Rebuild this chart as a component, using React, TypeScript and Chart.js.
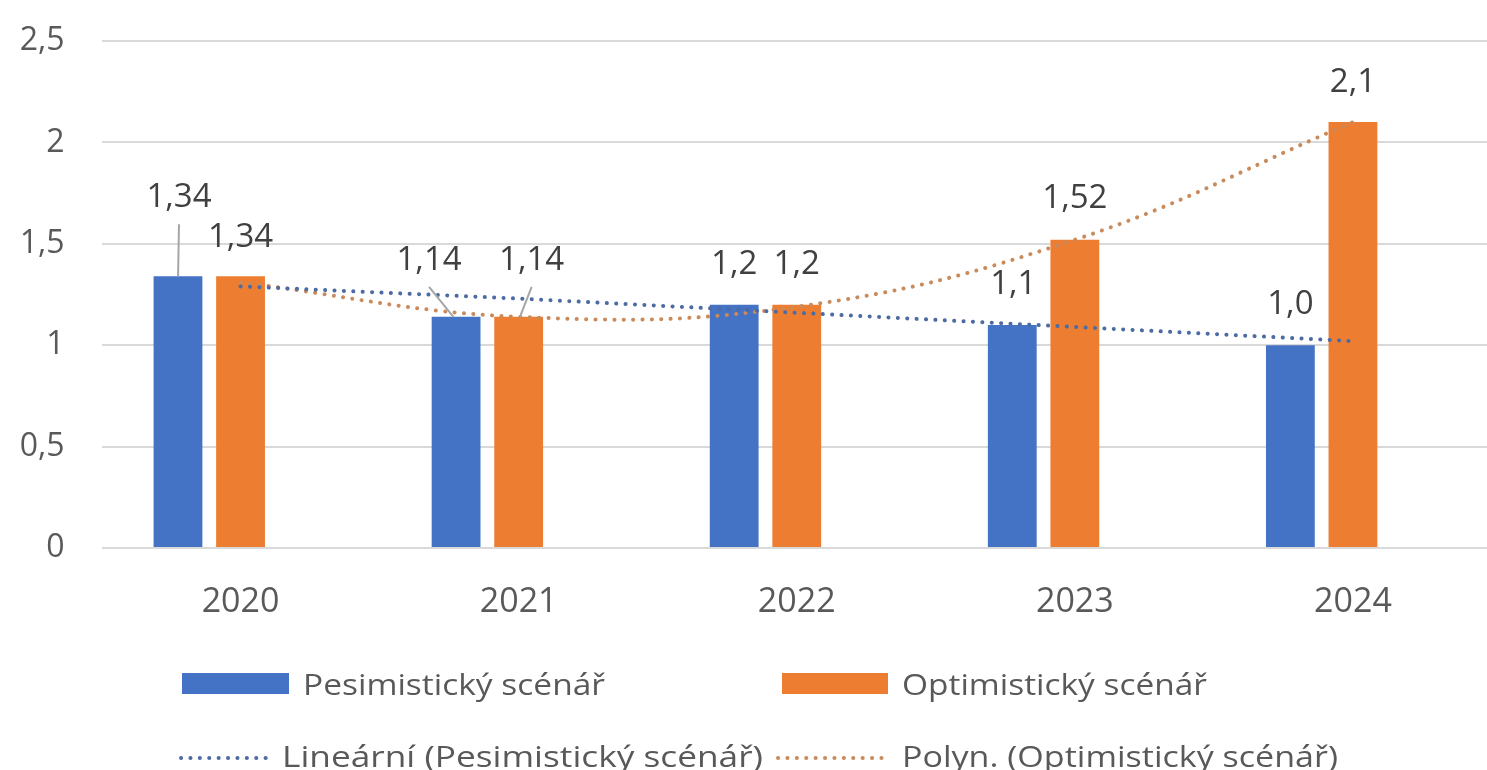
import React, { useEffect, useRef } from 'react';
import { Chart, registerables } from 'chart.js';

Chart.register(...registerables);

// ---- data ----
const categories = ['2020', '2021', '2022', '2023', '2024'];
const pesimistic = [1.34, 1.14, 1.2, 1.1, 1.0];
const optimistic = [1.34, 1.14, 1.2, 1.52, 2.1];
const pesimisticLabels = ['1,34', '1,14', '1,2', '1,1', '1,0'];
const optimisticLabels = ['1,34', '1,14', '1,2', '1,52', '2,1'];
const linearTrend = [1.29, 1.23, 1.16, 1.09, 1.02];
const polyTrend = [1.31, 1.14, 1.19, 1.52, 2.1];
const emptySlot = [null, null, null, null, null];
const yTickLabels = ['0', '0,5', '1', '1,5', '2', '2,5'];
const seriesNames = [
  'Pesimistický scénář',
  'Optimistický scénář',
  'Lineární (Pesimistický scénář)',
  'Polyn. (Optimistický scénář)',
];

// ---- styles ----
const FONT = '"Open Sans", "Noto Sans", sans-serif';
const BLUE = '#4472C4';
const ORANGE = '#ED7D31';
const BLUE_DOT = '#4d6ba3';
const ORANGE_DOT = '#c98a5c';
const TEXT = '#595959';
const LABEL_TEXT = '#404040';

// per bar label placement: dx from bar centre, dy = distance from bar top to baseline
const labelPlacement: { dx: number; dy: number; leader?: boolean }[][] = [
  [
    { dx: 1, dy: 69, leader: true },
    { dx: -27, dy: 47, leader: true },
    { dx: 0, dy: 31 },
    { dx: 1, dy: 31 },
    { dx: 0, dy: 31 },
  ],
  [
    { dx: 0, dy: 29 },
    { dx: 13, dy: 47, leader: true },
    { dx: 0, dy: 31 },
    { dx: 0, dy: 32 },
    { dx: 0, dy: 30 },
  ],
];

// legend layout: marker x / width, text x and target text width (px)
const legendItems = [
  { kind: 'box', color: BLUE, mx: 182, mw: 107, tx: 303, tw: 302, row: 0 },
  { kind: 'box', color: ORANGE, mx: 782, mw: 106, tx: 902, tw: 305, row: 0 },
  { kind: 'dots', color: BLUE_DOT, mx: 181, mw: 94, tx: 282, tw: 481, row: 1 },
  { kind: 'dots', color: ORANGE_DOT, mx: 778, mw: 109, tx: 902, tw: 436, row: 1 },
];
const legendRows = [
  { baseline: 695, boxTop: 673, boxH: 21, lineY: 684 },
  { baseline: 767, boxTop: 747, boxH: 21, lineY: 758 },
];

const labelPlugin = {
  id: 'barLabels',
  afterDatasetsDraw(chart: any) {
    const ctx = chart.ctx;
    const texts = [pesimisticLabels, optimisticLabels];
    ctx.save();
    ctx.font = `33px ${FONT}`;
    ctx.textAlign = 'center';
    ctx.textBaseline = 'alphabetic';
    for (let d = 0; d < 2; d++) {
      const meta = chart.getDatasetMeta(d);
      meta.data.forEach((bar: any, i: number) => {
        const p = labelPlacement[d][i];
        const lx = bar.x + p.dx;
        const ly = bar.y - p.dy;
        if (p.leader) {
          ctx.strokeStyle = '#a6a6a6';
          ctx.lineWidth = 2;
          ctx.beginPath();
          ctx.moveTo(lx, ly + 17);
          ctx.lineTo(bar.x + p.dx * 0.1, bar.y);
          ctx.stroke();
        }
        ctx.fillStyle = LABEL_TEXT;
        ctx.fillText(texts[d][i], lx, ly);
      });
    }
    ctx.restore();
  },
};

const legendPlugin = {
  id: 'customLegend',
  afterDraw(chart: any) {
    const ctx = chart.ctx;
    legendItems.forEach((it, i) => {
      const r = legendRows[it.row];
      ctx.save();
      if (it.kind === 'box') {
        ctx.fillStyle = it.color;
        ctx.fillRect(it.mx, r.boxTop, it.mw, r.boxH);
      } else {
        ctx.strokeStyle = it.color;
        ctx.lineWidth = 4;
        ctx.lineCap = 'round';
        ctx.setLineDash([0.1, 9.3]);
        ctx.beginPath();
        ctx.moveTo(it.mx, r.lineY);
        ctx.lineTo(it.mx + it.mw, r.lineY);
        ctx.stroke();
        ctx.setLineDash([]);
      }
      ctx.font = `29px ${FONT}`;
      ctx.textAlign = 'left';
      ctx.textBaseline = 'alphabetic';
      ctx.fillStyle = TEXT;
      const w = ctx.measureText(seriesNames[i]).width || 1;
      const sx = it.tw / w;
      ctx.translate(it.tx, r.baseline);
      ctx.scale(sx, 1);
      ctx.fillText(seriesNames[i], 0, 0);
      ctx.restore();
    });
  },
};

export default function App() {
  const canvasRef = useRef<HTMLCanvasElement | null>(null);

  useEffect(() => {
    document.body.style.margin = '0';
    document.body.style.overflow = 'hidden';
    let chart: Chart | null = null;
    let cancelled = false;

    const create = () => {
      if (cancelled || !canvasRef.current) return;
      chart = new Chart(canvasRef.current, {
        type: 'bar',
        data: {
          labels: categories,
          datasets: [
            {
              type: 'bar',
              label: seriesNames[0],
              data: pesimistic,
              backgroundColor: BLUE,
              borderWidth: 0,
              categoryPercentage: 0.675,
              barPercentage: 0.78,
              order: 2,
            },
            {
              type: 'bar',
              label: seriesNames[1],
              data: optimistic,
              backgroundColor: ORANGE,
              borderWidth: 0,
              categoryPercentage: 0.675,
              barPercentage: 0.78,
              order: 2,
            },
            {
              type: 'bar',
              label: '',
              data: emptySlot as any,
              backgroundColor: 'rgba(0,0,0,0)',
              borderWidth: 0,
              categoryPercentage: 0.675,
              barPercentage: 0.78,
              order: 2,
            },
            {
              type: 'line',
              label: seriesNames[2],
              data: linearTrend,
              borderColor: BLUE_DOT,
              borderWidth: 4,
              borderDash: [0.1, 9.3],
              borderCapStyle: 'round',
              pointRadius: 0,
              tension: 0,
              fill: false,
              order: 1,
            },
            {
              type: 'line',
              label: seriesNames[3],
              data: polyTrend,
              borderColor: ORANGE_DOT,
              borderWidth: 4,
              borderDash: [0.1, 9.3],
              borderCapStyle: 'round',
              pointRadius: 0,
              tension: 0.4,
              fill: false,
              order: 1,
            },
          ] as any,
        },
        options: {
          responsive: false,
          animation: false,
          devicePixelRatio: 1,
          layout: { padding: { top: 41, right: 8, left: 0, bottom: 0 } },
          plugins: {
            legend: { display: false },
            tooltip: { enabled: false },
            title: { display: false },
          },
          scales: {
            x: {
              offset: true,
              grid: { display: false, drawTicks: false },
              border: { display: false },
              ticks: {
                color: TEXT,
                font: { family: FONT, size: 34 },
                padding: 34,
                maxRotation: 0,
              },
              afterFit: (scale: any) => {
                scale.height = 222;
              },
            },
            y: {
              min: 0,
              max: 2.5,
              grid: { color: '#d9d9d9', lineWidth: 2, drawTicks: false },
              border: { display: false },
              ticks: {
                stepSize: 0.5,
                color: TEXT,
                font: { family: FONT, size: 32 },
                padding: 37,
                callback: (_v: any, i: number) => yTickLabels[i],
              },
              afterFit: (scale: any) => {
                scale.width = 101.5;
                scale.paddingTop = 0;
                scale.paddingBottom = 0;
              },
            },
          },
        },
        plugins: [labelPlugin, legendPlugin],
      } as any);
    };

    if ((document as any).fonts && (document as any).fonts.load) {
      Promise.all([(document as any).fonts.load(`32px "Open Sans"`)])
        .catch(() => {})
        .then(create);
    } else {
      create();
    }

    return () => {
      cancelled = true;
      if (chart) chart.destroy();
    };
  }, []);

  return (
    <div style={{ width: 1500, height: 770, overflow: 'hidden', background: '#fff' }}>
      <canvas ref={canvasRef} width={1500} height={770} style={{ display: 'block' }} />
    </div>
  );
}
